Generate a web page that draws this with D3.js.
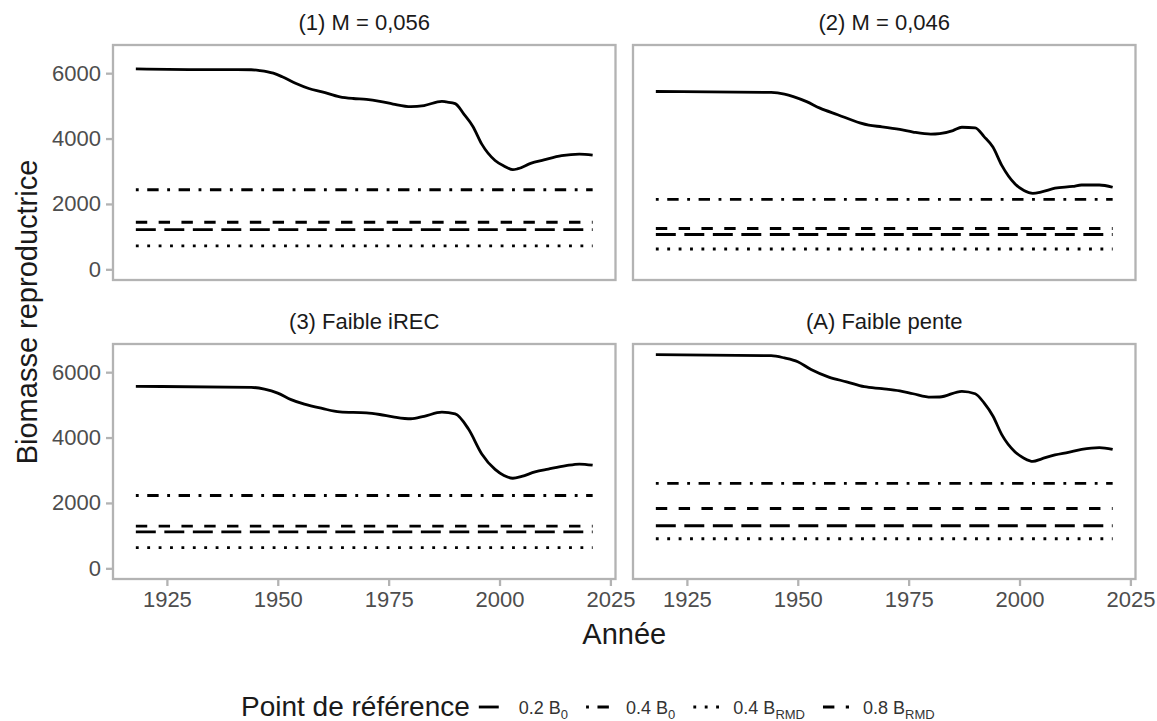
<!DOCTYPE html>
<html>
<head>
<meta charset="utf-8">
<script src="https://cdn.jsdelivr.net/npm/d3@7"></script>
<style>
  body { margin: 0; background: #fff; }
  svg { display: block; font-family: "Liberation Sans", Arial, sans-serif; }
</style>
</head>
<body>
<svg id="chart" width="1157" height="721"></svg>
<script>
// Facet titles
const panelTitles = ["(1) M = 0,056", "(2) M = 0,046", "(3) Faible iREC", "(A) Faible pente"];

// Spawning biomass trajectories, one pair of arrays per scenario
const years1 = [1918, 1930, 1944, 1946, 1949, 1951, 1954, 1957, 1960, 1964, 1967, 1970, 1973, 1976, 1980, 1983, 1987, 1988, 1990, 1992, 1994, 1996, 1999, 2001, 2003, 2004, 2007, 2010, 2014, 2018, 2021];
const ssb1   = [6130, 6110, 6105, 6080, 6000, 5890, 5690, 5530, 5430, 5275, 5225, 5200, 5140, 5055, 4975, 5010, 5140, 5120, 5070, 4740, 4370, 3830, 3330, 3160, 3050, 3070, 3240, 3345, 3475, 3525, 3495];

const years2 = [1918, 1944, 1947, 1949, 1952, 1955, 1959, 1964, 1966, 1969, 1973, 1976, 1980, 1982, 1985, 1987, 1990, 1992, 1994, 1996, 1999, 2001, 2003, 2005, 2008, 2012, 2014, 2018, 2021];
const ssb2   = [5440, 5410, 5360, 5285, 5130, 4930, 4730, 4480, 4410, 4360, 4280, 4200, 4135, 4150, 4245, 4345, 4325, 4060, 3740, 3180, 2610, 2410, 2325, 2370, 2480, 2535, 2580, 2580, 2510];

const years3 = [1918, 1944, 1947, 1950, 1953, 1956, 1960, 1964, 1970, 1973, 1976, 1980, 1983, 1987, 1990, 1993, 1996, 1999, 2001, 2003, 2005, 2008, 2011, 2015, 2018, 2021];
const ssb3   = [5565, 5535, 5480, 5360, 5160, 5020, 4890, 4785, 4755, 4705, 4635, 4575, 4650, 4775, 4725, 4260, 3500, 3025, 2840, 2755, 2810, 2950, 3035, 3140, 3190, 3155];

const years4 = [1918, 1944, 1947, 1950, 1953, 1957, 1961, 1965, 1969, 1973, 1976, 1980, 1982, 1987, 1990, 1992, 1994, 1996, 1999, 2001, 2003, 2005, 2008, 2011, 2014, 2018, 2021];
const ssb4   = [6535, 6505, 6435, 6320, 6080, 5850, 5705, 5555, 5495, 5425, 5340, 5235, 5240, 5415, 5340, 5060, 4660, 4090, 3560, 3370, 3270, 3350, 3470, 3550, 3640, 3695, 3635];

// Reference points per scenario (same order as panelTitles)
const ref02B0   = [1215, 1065, 1113, 1302];
const ref04B0   = [2435, 2140, 2226, 2600];
const ref04BRMD = [715, 620, 635, 905];
const ref08BRMD = [1440, 1250, 1290, 1830];

// Axis ticks
const xTicks = [1925, 1950, 1975, 2000, 2025];
const yTicks = [0, 2000, 4000, 6000];

// Legend entries: label base, subscript
const refNames = [["0.2 B", "0"], ["0.4 B", "0"], ["0.4 B", "RMD"], ["0.8 B", "RMD"]];

// ---------------------------------------------------------------
const series = [
  {years: years1, values: ssb1},
  {years: years2, values: ssb2},
  {years: years3, values: ssb3},
  {years: years4, values: ssb4}
];
const refSets = [ref02B0, ref04B0, ref04BRMD, ref08BRMD];

const LW = 2.85; // reference line width, dash units follow it
const dashes = [
  [7 * LW, 3 * LW],                    // longdash
  [1 * LW, 3 * LW, 4 * LW, 3 * LW],    // dotdash
  [1 * LW, 3 * LW],                    // dotted
  [4 * LW, 4 * LW]                     // dashed
];

const svg = d3.select("#chart");
svg.append("rect").attr("width", 1157).attr("height", 721).attr("fill", "#fff");

const colX = [113, 633];
const rowY = [45, 344];
const pw = 502.5, ph = 235;
const borderColor = "#B3B3B3";

const allYears = series.flatMap(s => s.years);
const [yr0, yr1] = d3.extent(allYears);
const xPad = (yr1 - yr0) * 0.05;
const yMax = d3.max([...series.flatMap(s => s.values), ...refSets.flat()]);
const yDomain = [-0.05 * yMax, 1.05 * yMax];

series.forEach((s, i) => {
  const col = i % 2, row = Math.floor(i / 2);
  const x0 = colX[col], y0 = rowY[row];
  const x = d3.scaleLinear().domain([yr0 - xPad, yr1 + xPad]).range([x0, x0 + pw]);
  const y = d3.scaleLinear().domain(yDomain).range([y0 + ph, y0]);
  const g = svg.append("g");

  // facet title
  g.append("text")
    .attr("x", x0 + pw / 2).attr("y", y0 - 15)
    .attr("text-anchor", "middle")
    .attr("font-size", 22).attr("fill", "#1a1a1a")
    .text(panelTitles[i]);

  // reference lines
  refSets.forEach((set, k) => {
    g.append("line")
      .attr("x1", x(yr0)).attr("x2", x(yr1))
      .attr("y1", y(set[i])).attr("y2", y(set[i]))
      .attr("stroke", "#000").attr("stroke-width", LW)
      .attr("stroke-dasharray", dashes[k].join(","));
  });

  // biomass trajectory
  const pts = s.years.map((yr, j) => [yr, s.values[j]]);
  g.append("path")
    .datum(pts)
    .attr("fill", "none").attr("stroke", "#000")
    .attr("stroke-width", 2.8).attr("stroke-linejoin", "round")
    .attr("d", d3.line().x(d => x(d[0])).y(d => y(d[1])).curve(d3.curveMonotoneX));

  // panel border
  g.append("rect")
    .attr("x", x0).attr("y", y0).attr("width", pw).attr("height", ph)
    .attr("fill", "none").attr("stroke", borderColor).attr("stroke-width", 2.3);

  // axes
  if (col === 0) {
    const ax = g.append("g")
      .attr("transform", `translate(${x0 - 1},0)`)
      .call(d3.axisLeft(y).tickValues(yTicks).tickSize(6).tickPadding(5).tickFormat(d3.format("d")));
    ax.select(".domain").remove();
    ax.selectAll("line").attr("stroke", borderColor).attr("stroke-width", 2.3);
    ax.selectAll("text").attr("font-size", 22).attr("fill", "#4d4d4d")
      .attr("font-family", "'Liberation Sans', Arial, sans-serif");
  }
  if (row === 1) {
    const ax = g.append("g")
      .attr("transform", `translate(0,${y0 + ph + 1})`)
      .call(d3.axisBottom(x).tickValues(xTicks).tickSize(6).tickPadding(5).tickFormat(d3.format("d")));
    ax.select(".domain").remove();
    ax.selectAll("line").attr("stroke", borderColor).attr("stroke-width", 2.3);
    ax.selectAll("text").attr("font-size", 22).attr("fill", "#4d4d4d")
      .attr("font-family", "'Liberation Sans', Arial, sans-serif");
  }
});

// axis titles
svg.append("text")
  .attr("x", (colX[0] + colX[1] + pw) / 2).attr("y", 644)
  .attr("text-anchor", "middle").attr("font-size", 29).attr("fill", "#1a1a1a")
  .text("Année");

svg.append("text")
  .attr("transform", `translate(37,${(rowY[0] + rowY[1] + ph) / 2}) rotate(-90)`)
  .attr("text-anchor", "middle").attr("font-size", 29).attr("fill", "#1a1a1a")
  .text("Biomasse reproductrice");

// legend
const leg = svg.append("g");
const legY = 707;
let lx = 241;
const title = leg.append("text")
  .attr("x", lx).attr("y", legY + 9)
  .attr("font-size", 28).attr("fill", "#1a1a1a")
  .text("Point de référence");
lx += title.node().getComputedTextLength() + 9;

refNames.forEach((nm, k) => {
  leg.append("line")
    .attr("x1", lx).attr("x2", lx + 26)
    .attr("y1", legY).attr("y2", legY)
    .attr("stroke", "#000").attr("stroke-width", LW)
    .attr("stroke-dasharray", dashes[k].join(","));
  lx += 26 + 14;
  const t = leg.append("text")
    .attr("x", lx).attr("y", legY + 7)
    .attr("font-size", 18).attr("fill", "#333");
  t.append("tspan").text(nm[0]);
  t.append("tspan").attr("font-size", 13).attr("dy", 5).text(nm[1]);
  lx += t.node().getComputedTextLength() + 18;
});
</script>
</body>
</html>
